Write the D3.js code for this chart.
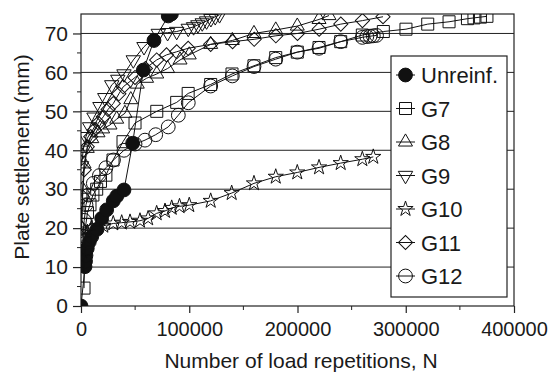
<!DOCTYPE html>
<html>
<head>
<meta charset="utf-8">
<script src="https://cdn.jsdelivr.net/npm/d3@7"></script>
<style>
  body { margin: 0; background: #fff; }
  text { font-family: "Liberation Sans", Arial, sans-serif; fill: #1a1a1a; }
</style>
</head>
<body>
<svg id="chart" width="553" height="373"></svg>
<script>
// values: [load repetitions N, plate settlement mm]
const unreinf = [[0,0],[3700,10.1],[4200,11.5],[4600,13],[5800,14.8],[7700,16.5],[9900,17.8],
  [14800,19.7],[19100,22.5],[23700,24.7],[29800,27],[33000,28.2],[39700,29.8],[47700,41.8],
  [57600,60.6],[67400,68.2],[80600,74.5],[83500,75]];
const g7 = [[2800,4.6],[3500,17],[4500,21],[6000,24],[8300,26],[11000,28.5],[14500,30],[18000,32],
  [23000,33.6],[29600,37.5],[38800,42.2],[49900,47],[70000,50],[88400,52.3],[99000,54.6],
  [119800,56.9],[139500,59.6],[159800,61.7],[179900,63.8],[199800,65.2],[219900,66.4],[239900,67.9],
  [259900,69.6],[279300,70.5],[300200,71.1],[320300,72.4],[340000,73],[357000,73.8],[363000,74],
  [369000,74.2],[375000,74.4]];
const g8 = [[500,20],[1500,30],[2800,36.5],[5800,40.5],[10000,43],[15700,44.5],[20000,45.5],
  [26800,46.5],[33000,48],[40600,49.5],[46000,53],[52000,57],[60600,58.5],[70000,59.6],[80000,61],
  [91500,63.2],[100000,64.5],[119800,67.2],[139800,68.2],[159800,70],[179900,70.9],[199800,71.9],
  [219900,73.6],[229100,74.6]];
const g9 = [[500,36],[2000,40],[4600,43.5],[8000,46],[12000,48.5],[17500,51.2],[22000,53.5],
  [28400,56.8],[34000,58.2],[39700,59.6],[48300,63.2],[58200,66.6],[71400,70],[80000,70.2],
  [88400,70.5],[99100,71.3],[104000,71.7],[108000,72.2],[112000,72.7],[116000,73.2],[120000,73.8],
  [124000,74.3],[128000,74.8]];
const g10 = [[1000,14],[3000,17],[6000,19],[10000,20],[15000,20.5],[20600,20.6],[29800,21.2],
  [37600,21.4],[45300,21.6],[54500,21.9],[62000,22.5],[69900,23.8],[77600,24.4],[83800,25.2],
  [91000,25.6],[100000,25.9],[119800,27],[139200,29],[159800,31.5],[179900,33.2],[199800,34.3],
  [219900,35.6],[239900,36.7],[259900,37.7],[270000,38.3]];
const g11 = [[500,20],[1500,28],[3000,35],[5800,40.9],[9000,43.5],[12300,45.2],[16000,47],
  [20600,48.6],[25000,50.5],[29800,52],[35000,54.5],[39000,56.3],[49900,58.7],[59500,61],
  [69900,63.2],[79000,64.5],[88400,65.3],[99000,66.2],[119800,67.2],[140000,67.9],[160000,68.5],
  [180000,69.4],[200000,70],[220000,71.1],[240000,72.4],[260000,73.3],[279000,74.3]];
const g12 = [[1500,18],[3000,22],[4600,26],[7000,28.5],[11400,31.5],[17000,33.5],[23000,35.5],
  [30000,37.5],[39700,40],[49900,41.6],[59100,42.6],[69000,44],[80600,46],[89900,49],[99100,52.2],
  [119800,56.5],[139800,59.1],[159800,61.5],[179900,63.4],[199800,65.2],[219900,66.2],[239900,67.9],
  [259900,69],[264000,69.2],[267000,69.3],[270000,69.4],[273000,69.5]];

const seriesNames = ["Unreinf.", "G7", "G8", "G9", "G10", "G11", "G12"];
const seriesData = [unreinf, g7, g8, g9, g10, g11, g12];
const xTicks = [0, 100000, 200000, 300000, 400000];
const yTicks = [0, 10, 20, 30, 40, 50, 60, 70];

const svg = d3.select("#chart");
const x = d3.scaleLinear().domain([0, 400000]).range([81, 514]);
const y = d3.scaleLinear().domain([0, 75]).range([306, 14]);

// marker for each series
const markers = [
  {type: d3.symbolCircle, size: 150, rot: 0, fill: "#111"},
  {type: d3.symbolSquare, size: 144, rot: 0, fill: "none"},
  {type: d3.symbolTriangle, size: 85, rot: 0, fill: "none"},
  {type: d3.symbolTriangle, size: 90, rot: 180, fill: "none"},
  {type: d3.symbolStar, size: 72, rot: 0, fill: "none"},
  {type: d3.symbolSquare, size: 100, rot: 45, fill: "none"},
  {type: d3.symbolCircle, size: 150, rot: 0, fill: "none"}
];

// grid
svg.append("g").selectAll("line").data(yTicks.filter(d => d > 0)).join("line")
  .attr("x1", x(0)).attr("x2", x(400000))
  .attr("y1", d => y(d)).attr("y2", d => y(d))
  .attr("stroke", "#222").attr("stroke-width", 1);

// frame
svg.append("rect").attr("x", x(0)).attr("y", y(75))
  .attr("width", x(400000) - x(0)).attr("height", y(0) - y(75))
  .attr("fill", "none").attr("stroke", "#222").attr("stroke-width", 1.2);

// axes
const yAxis = svg.append("g").attr("transform", `translate(${x(0)},0)`)
  .call(d3.axisLeft(y).tickValues(yTicks).tickSize(8).tickPadding(5));
const xAxis = svg.append("g").attr("transform", `translate(0,${y(0)})`)
  .call(d3.axisBottom(x).tickValues(xTicks).tickSize(7).tickPadding(9).tickFormat(d3.format("d")));
[yAxis, xAxis].forEach(g => {
  g.select(".domain").remove();
  g.selectAll("line").attr("stroke", "#222").attr("stroke-width", 1.2);
  g.selectAll("text").style("font-size", "20px").attr("fill", "#1a1a1a");
});
yAxis.selectAll("text").style("font-size", "21px");
// minor ticks
svg.append("g").selectAll("line").data(d3.range(5, 75, 10)).join("line")
  .attr("x1", x(0) - 4).attr("x2", x(0)).attr("y1", d => y(d)).attr("y2", d => y(d))
  .attr("stroke", "#222");
svg.append("g").selectAll("line").data(d3.range(50000, 400000, 100000)).join("line")
  .attr("x1", d => x(d)).attr("x2", d => x(d)).attr("y1", y(0)).attr("y2", y(0) + 4)
  .attr("stroke", "#222");

// axis titles
svg.append("text").attr("x", 301).attr("y", 368).attr("text-anchor", "middle")
  .style("font-size", "21px").text("Number of load repetitions, N");
svg.append("text").attr("transform", "translate(29,157) rotate(-90)").attr("text-anchor", "middle")
  .style("font-size", "21px").text("Plate settlement (mm)");

// series
svg.append("clipPath").attr("id", "plot").append("rect")
  .attr("x", x(0)).attr("y", y(75)).attr("width", x(400000) - x(0)).attr("height", y(0) - y(75));
const plot = svg.append("g").attr("clip-path", "url(#plot)");
const line = d3.line().x(d => x(d[0])).y(d => y(d[1]));

seriesData.forEach((data, i) => {
  const mk = markers[i];
  const g = plot.append("g");
  g.append("path").attr("d", line(data)).attr("fill", "none").attr("stroke", "#111").attr("stroke-width", 1);
  g.selectAll("path.m").data(data).join("path").attr("class", "m")
    .attr("d", d3.symbol().type(mk.type).size(mk.size))
    .attr("transform", d => `translate(${x(d[0])},${y(d[1])}) rotate(${mk.rot})`)
    .attr("fill", mk.fill).attr("stroke", "#111").attr("stroke-width", 1);
});

// legend
const lg = svg.append("g");
lg.append("rect").attr("x", 391).attr("y", 56).attr("width", 116).attr("height", 241)
  .attr("fill", "#fff").attr("stroke", "#222").attr("stroke-width", 1.2);
seriesNames.forEach((name, i) => {
  const mk = markers[i];
  const cy = 75 + i * 33.5;
  lg.append("line").attr("x1", 396).attr("x2", 415).attr("y1", cy).attr("y2", cy)
    .attr("stroke", "#111");
  lg.append("path").attr("d", d3.symbol().type(mk.type).size(mk.size)())
    .attr("transform", `translate(405.5,${cy}) rotate(${mk.rot})`)
    .attr("fill", mk.fill).attr("stroke", "#111");
  lg.append("text").attr("x", 421).attr("y", cy + 8).style("font-size", "22px").text(name);
});
</script>
</body>
</html>
